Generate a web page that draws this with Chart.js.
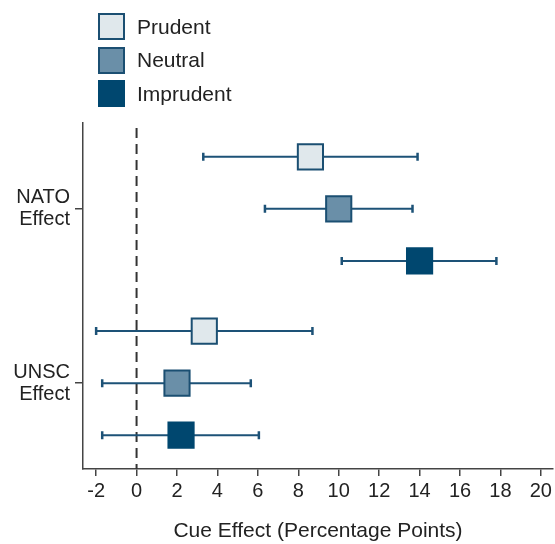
<!DOCTYPE html>
<html>
<head>
<meta charset="utf-8">
<script src="https://cdn.jsdelivr.net/npm/chart.js@4.4.1/dist/chart.umd.min.js"></script>
<style>
  html, body { margin: 0; padding: 0; background: #fff; }
  #wrap { position: relative; width: 555px; height: 544px; }
  #legend { position: absolute; left: 98px; top: 13px; font-family: "Liberation Sans", Arial, sans-serif; font-size: 21px; color: #222; }
  .item { display: flex; align-items: center; height: 27px; margin-bottom: 6.5px; }
  .sw { width: 27px; height: 27px; box-sizing: border-box; border: 2px solid #1b4f72; margin-right: 12px; }
</style>
</head>
<body>
<div id="wrap">
  <canvas id="chartCanvas" width="555" height="544"></canvas>
  <div id="legend"></div>
</div>
<script>
// conditions (series) and groups
var conditions = ['Prudent', 'Neutral', 'Imprudent'];
var groups = ['NATO Effect', 'UNSC Effect'];
var yTickLabels = [['NATO', 'Effect'], ['UNSC', 'Effect']];

// row positions on the y scale (group, then condition)
var groupPos = [2, 5.35];
var rowPos = [[1, 4.35], [2, 5.35], [3, 6.35]];

// estimates and 95% intervals, [NATO, UNSC] per condition
var estimates = [[8.6, 3.35], [10.0, 2.0], [14.0, 2.2]];
var lower = [[3.3, -2.0], [6.35, -1.7], [10.15, -1.7]];
var upper = [[13.9, 8.7], [13.65, 5.65], [17.8, 6.05]];

var xTicks = [-2, 0, 2, 4, 6, 8, 10, 12, 14, 16, 18, 20];

var fills = ['#e0e8ec', '#6a8fa8', '#00476f'];
var edges = ['#1b4f72', '#1b4f72', '#00476f'];
var barColor = '#1d5277';

var legend = document.getElementById('legend');
conditions.forEach(function (c, i) {
    var d = document.createElement('div');
    d.className = 'item';
    d.innerHTML = '<span class="sw" style="background:' + fills[i] + ';border-color:' + edges[i] + '"></span>' + c;
    legend.appendChild(d);
});

var datasets = conditions.map(function (c, i) {
    return {
        label: c,
        data: groups.map(function (g, j) {
            return { x: estimates[i][j], y: rowPos[i][j], lo: lower[i][j], hi: upper[i][j] };
        }),
        pointStyle: 'rect',
        pointRadius: 17.8,
        backgroundColor: fills[i],
        borderColor: edges[i],
        borderWidth: 2
    };
});

var errorBars = {
    id: 'errorBars',
    beforeDatasetsDraw: function (chart) {
        var ctx = chart.ctx;
        var xs = chart.scales.x, ys = chart.scales.y;
        var area = chart.chartArea;
        ctx.save();
        // zero reference line
        ctx.strokeStyle = '#333';
        ctx.lineWidth = 2;
        ctx.setLineDash([10, 6]);
        ctx.beginPath();
        var x0 = xs.getPixelForValue(0);
        ctx.moveTo(x0, area.top + 5);
        ctx.lineTo(x0, area.bottom);
        ctx.stroke();
        ctx.setLineDash([]);
        // intervals
        ctx.strokeStyle = barColor;
        chart.data.datasets.forEach(function (ds) {
            ds.data.forEach(function (p) {
                var y = ys.getPixelForValue(p.y);
                var a = xs.getPixelForValue(p.lo);
                var b = xs.getPixelForValue(p.hi);
                ctx.lineWidth = 2;
                ctx.beginPath();
                ctx.moveTo(a, y);
                ctx.lineTo(b, y);
                ctx.stroke();
                ctx.lineWidth = 2.5;
                ctx.beginPath();
                ctx.moveTo(a, y - 4);
                ctx.lineTo(a, y + 4);
                ctx.moveTo(b, y - 4);
                ctx.lineTo(b, y + 4);
                ctx.stroke();
            });
        });
        ctx.restore();
    }
};

Chart.defaults.font.family = '"Liberation Sans", Arial, sans-serif';
Chart.defaults.color = '#222';

var ctx = document.getElementById('chartCanvas').getContext('2d');
var chart = new Chart(ctx, {
    type: 'scatter',
    data: { datasets: datasets },
    plugins: [errorBars],
    options: {
        responsive: false,
        animation: false,
        events: [],
        layout: { autoPadding: false, padding: { top: 123, right: 2, bottom: 0, left: 0 } },
        plugins: {
            legend: { display: false },
            tooltip: { enabled: false }
        },
        scales: {
            x: {
                type: 'linear',
                min: -2.65,
                max: 20.6,
                afterBuildTicks: function (s) {
                    s.ticks = xTicks.map(function (v) { return { value: v }; });
                },
                afterFit: function (s) {
                    s.height = 75;
                    s.paddingLeft = 0;
                    s.paddingRight = 0;
                },
                grid: { drawOnChartArea: false, drawTicks: true, tickLength: 7, color: '#444', lineWidth: 1.5 },
                border: { color: '#444', width: 1.5 },
                ticks: { font: { size: 20 }, color: '#222', padding: 3, maxRotation: 0, autoSkip: false },
                title: {
                    display: true,
                    text: 'Cue Effect (Percentage Points)',
                    font: { size: 21 },
                    color: '#222',
                    padding: { top: 0, bottom: 0 }
                }
            },
            y: {
                type: 'linear',
                reverse: true,
                min: 0.35,
                max: 7.0,
                afterBuildTicks: function (s) {
                    s.ticks = groupPos.map(function (v) { return { value: v }; });
                },
                afterFit: function (s) {
                    s.width = 83;
                    s.paddingTop = 0;
                    s.paddingBottom = 0;
                },
                grid: { drawOnChartArea: false, drawTicks: true, tickLength: 8, color: '#444', lineWidth: 1.5 },
                border: { color: '#444', width: 1.5 },
                ticks: {
                    font: { size: 20, lineHeight: 1.1 },
                    color: '#222',
                    padding: 5,
                    autoSkip: false,
                    callback: function (value, index) { return yTickLabels[index]; }
                }
            }
        }
    }
});
</script>
</body>
</html>
